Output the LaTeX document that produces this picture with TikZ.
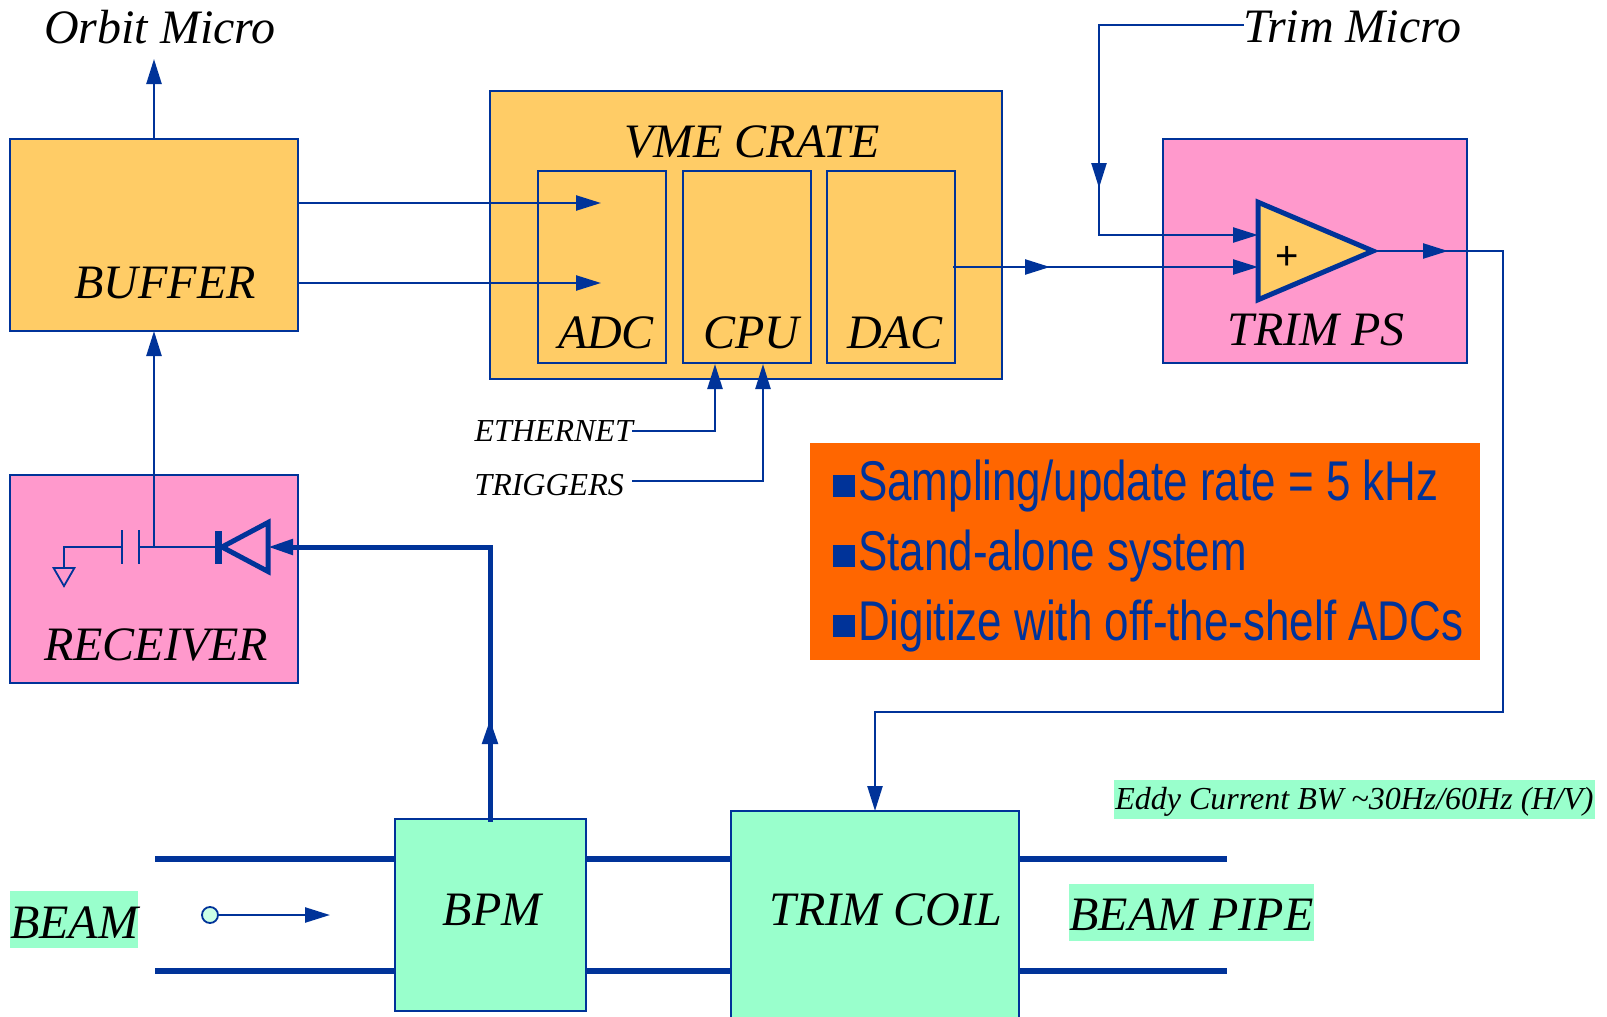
\documentclass[tikz,border=0pt]{standalone}
\usepackage{fontspec}
\setmainfont{Liberation Serif}
\newfontfamily\narrowfont[FakeStretch=0.785]{Liberation Sans}
\newfontfamily\plainsans{Liberation Sans}
\newcommand{\notebullet}{\rule[4pt]{22pt}{22pt}\kern3pt}
\usepackage{tikz}
\usetikzlibrary{arrows.meta,calc,shapes.geometric}
\definecolor{wireblue}{HTML}{003399}
\definecolor{boxpink}{HTML}{FF99CC}
\definecolor{boxyellow}{HTML}{FFCC66}
\definecolor{boxgreen}{HTML}{99FFCC}
\definecolor{boxorange}{HTML}{FF6600}
\tikzset{
box/.style={draw=wireblue, line width=2pt, outer sep=0pt, inner sep=0pt},
lbl/.style={font=\fontsize{48}{52}\selectfont\itshape, inner sep=0pt, text=black},
tag/.style={fill=boxgreen, inner sep=0pt, text=black, text depth=0pt},
wire/.style={color=wireblue, draw, line width=2.4pt, line cap=rect},
thick wire/.style={color=wireblue, draw, line width=5pt, line cap=rect},
pipe/.style={color=wireblue, draw, line width=5.5pt},
tip/.style={-{Triangle[length=25pt,width=15pt]}}}

\begin{document}
\begin{tikzpicture}[x=1pt,y=-1pt]
\clip (0,0) rectangle (1607,1017);
% boxes
\node (buffer) [box, fill=boxyellow, minimum width=288, minimum height=192] at (154,235) {};
\node (receiver) [box, fill=boxpink, minimum width=288, minimum height=208] at (154,579) {};
\node (crate) [box, fill=boxyellow, minimum width=512, minimum height=288] at (746,235) {};
\node (adc) [box, fill=boxyellow, minimum width=128, minimum height=192] at (602,267) {};
\node (cpu) [box, fill=boxyellow, minimum width=128, minimum height=192] at (746.5,267) {};
\node (dac) [box, fill=boxyellow, minimum width=128, minimum height=192] at (890.5,267) {};
\node (trimps) [box, fill=boxpink, minimum width=304, minimum height=224] at (1314.5,251) {};
\node (bpm) [box, fill=boxgreen, minimum width=191, minimum height=192] at (490.5,915) {};
\node (coil) [box, fill=boxgreen, minimum width=288, minimum height=216] at (875,919) {};
\node (notes) [fill=boxorange, minimum width=670, minimum height=217, inner sep=0pt] at (1145,551.5) {};
% labels
\node (orbit) [lbl] at (160,27) {Orbit Micro};
\node (trim) [lbl, anchor=west] at (1243,27) {Trim Micro};
\node (bufname) [lbl] at (165,283) {BUFFER};
\node (cratename) [lbl] at (752,142) {VME CRATE};
\node (adcname) [lbl] at (606,333) {ADC};
\node (cpuname) [lbl] at (751,333) {CPU};
\node (dacname) [lbl] at (895,333) {DAC};
\node (psname) [lbl] at (1316,330) {TRIM PS};
\node (recname) [lbl] at (156,645) {RECEIVER};
\node (bpmname) [lbl] at (492,910) {BPM};
\node (coilname) [lbl] at (886,910) {TRIM COIL};
\node (ether) [lbl, font=\fontsize{32}{36}\selectfont\itshape, anchor=east] at (633,431) {ETHERNET};
\node (trig) [lbl, font=\fontsize{32}{36}\selectfont\itshape, anchor=east] at (624,485) {TRIGGERS};
\node (beam) [tag, font=\fontsize{48}{52}\selectfont\itshape, text height=38pt, minimum width=128, minimum height=57] at (74,919.5) {BEAM};
\node (pipename) [tag, font=\fontsize{48}{52}\selectfont\itshape, text height=36pt, minimum width=245, minimum height=57] at (1191.5,912) {BEAM PIPE};
\node (eddy) [tag, font=\fontsize{32}{36}\selectfont\itshape, text height=21pt, minimum width=481, minimum height=39] at (1354.5,799) {Eddy Current BW \textasciitilde30Hz/60Hz (H/V)};
\node (notetext) [text=wireblue, align=left, inner sep=0pt, anchor=west, font=\fontsize{56}{70}\selectfont\narrowfont] at (833,556.5)
 {\notebullet Sampling/update rate = 5 kHz\\ \notebullet Stand-alone system\\ \notebullet Digitize with off-the-shelf ADCs};
% amplifier and receiver parts
\node (amp) [isosceles triangle, isosceles triangle apex angle=46, anchor=apex, draw=wireblue, line width=5pt, fill=boxyellow, minimum height=115, inner sep=0pt, outer sep=0pt] at (1373,251) {};
\node (plus) [inner sep=0pt, font=\fontsize{40}{42}\selectfont\plainsans] at (1287,258) {+};
\node (diode) [isosceles triangle, isosceles triangle apex angle=56, shape border rotate=180, anchor=apex, draw=wireblue, line width=5pt, minimum height=46, inner sep=0pt, outer sep=0pt] at (222,547) {};
\draw[wireblue, line width=7pt] (218,531) -- (218,564);
\coordinate (capa) at (122,547);
\coordinate (capb) at (139,547);
\draw[wire] ($(capa)+(0,-16)$) -- ($(capa)+(0,16)$);
\draw[wire] ($(capb)+(0,-16)$) -- ($(capb)+(0,16)$);
\coordinate (gndtop) at (64,547);
\node (gnd) [isosceles triangle, isosceles triangle apex angle=60, shape border rotate=270, draw=wireblue, line width=1.8pt, minimum height=18, inner sep=0pt, outer sep=0pt] at (64,574) {};
\coordinate (capjoin) at (154,547);
% connectors
\path[wire] (gnd.north) edge (gnd.north |- gndtop) (gndtop) edge (capa) (capb) edge (218,547);
\path[wire] (capjoin) edge[tip] (buffer.south);
\path[wire] (buffer.north) edge[tip] (154,59);
\coordinate (adcup) at (601,203);
\coordinate (adclow) at (601,283);
\path[wire] (buffer.east |- adcup) edge[tip] (adcup);
\path[wire] (buffer.east |- adclow) edge[tip] (adclow);
\coordinate (ampup) at (amp.west |- 0,235);
\coordinate (amplow) at (amp.west |- 0,267);
\coordinate (trimcorner) at (1099,25);
\coordinate (trimmid) at (1099,188);
\coordinate (trimdown) at (1099,235);
\path[wire] (trim.west |- trimcorner) edge (trimcorner) (trimcorner) edge (trimdown) (trimcorner) edge[tip] (trimmid) (trimdown) edge[tip] (ampup);
\coordinate (dacmid) at (1050,267);
\path[wire] (dac.east |- dacmid) edge[tip] (amplow) (dac.east |- dacmid) edge[tip] (dacmid);
\coordinate (ampmid) at (1448,251);
\coordinate (outcorner) at (1503,251);
\coordinate (outlow) at (1503,712);
\coordinate (coiltop) at (875,712);
\path[wire] (amp.apex) edge (outcorner) (amp.apex) edge[tip] (ampmid) (outcorner) edge (outlow) (outlow) edge (coiltop) (coiltop) edge[tip] (coil.north);
\coordinate (ethcorner) at (715,431);
\coordinate (trigcorner) at (763,481);
\path[wire] (ether.east |- ethcorner) edge (ethcorner) (ethcorner) edge[tip] (715,364);
\path[wire] (633,481) edge (trigcorner) (trigcorner) edge[tip] (763,364);
\coordinate (bpmmid) at (490,719);
\coordinate (bpmcorner) at (490,547);
\path[thick wire] (bpm.north -| bpmcorner) edge (bpmcorner) (bpm.north -| bpmcorner) edge[tip] (bpmmid) (bpmcorner) edge[tip] (diode.east);
% beam pipe
\coordinate (pipeup) at (155,859);
\coordinate (pipelow) at (155,971);
\coordinate (pipeendup) at (1227,859);
\coordinate (pipeendlow) at (1227,971);
\path[pipe] (pipeup) edge (bpm.west |- pipeup) (bpm.east |- pipeup) edge (coil.west |- pipeup) (coil.east |- pipeup) edge (pipeendup);
\path[pipe] (pipelow) edge (bpm.west |- pipelow) (bpm.east |- pipelow) edge (coil.west |- pipelow) (coil.east |- pipelow) edge (pipeendlow);
\node (particle) [circle, draw=wireblue, line width=1.8pt, fill=boxgreen!50, minimum size=16, inner sep=0pt, outer sep=0pt] at (210,915) {};
\path[wire] (particle.east) edge[tip] (330,915);
\end{tikzpicture}
\end{document}
